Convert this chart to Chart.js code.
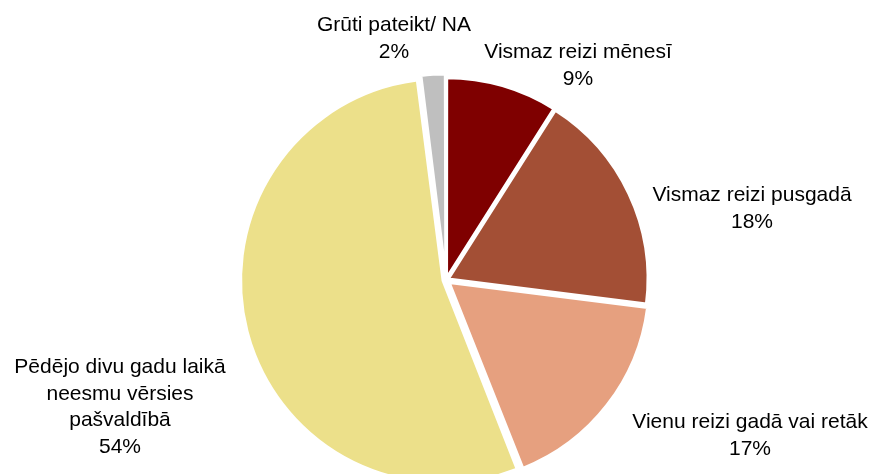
<!DOCTYPE html>
<html>
<head>
<meta charset="utf-8">
<script src="https://cdn.jsdelivr.net/npm/chart.js@4/dist/chart.umd.min.js"></script>
<style>
  html, body { margin: 0; padding: 0; background: #fff; overflow: hidden; }
  #wrap { position: absolute; left: 0; top: 0; width: 874px; height: 500px; }
</style>
</head>
<body>
<div id="wrap"><canvas id="pieChart"></canvas></div>
<script>
// categories (label lines as shown next to each slice)
var categories = [
    ['Vismaz reizi mēnesī'],
    ['Vismaz reizi pusgadā'],
    ['Vienu reizi gadā vai retāk'],
    ['Pēdējo divu gadu laikā', 'neesmu vērsies', 'pašvaldībā'],
    ['Grūti pateikt/ NA']
];
var shares = [9, 18, 17, 54, 2];
var sliceColors = ['#7f0000', '#a34f35', '#e6a07f', '#ece08a', '#bfbfbf'];

// where each label block sits, relative to the pie centre (x = text centre, y = first baseline)
var labelPlace = [
    { dx: 132, dy: -222 },
    { dx: 306, dy: -79 },
    { dx: 304, dy: 148 },
    { dx: -326, dy: 93 },
    { dx: -52, dy: -249 }
];

var pieLabels = {
    id: 'pieLabels',
    afterDatasetsDraw: function(chart) {
        var ctx = chart.ctx;
        var meta = chart.getDatasetMeta(0);
        var cx = meta.data[0].x, cy = meta.data[0].y;
        ctx.save();
        ctx.fillStyle = '#000';
        ctx.font = '21px "Liberation Sans", Arial, sans-serif';
        ctx.textAlign = 'center';
        ctx.textBaseline = 'alphabetic';
        categories.forEach(function(lines, i) {
            var all = lines.concat([shares[i] + '%']);
            all.forEach(function(t, k) {
                ctx.fillText(t, cx + labelPlace[i].dx, cy + labelPlace[i].dy + k * 26.5);
            });
        });
        ctx.restore();
    }
};

var ctx = document.getElementById('pieChart');
var myChart = new Chart(ctx, {
    type: 'pie',
    data: {
        labels: categories.map(function(c) { return c.join(' '); }),
        datasets: [{
            data: shares,
            backgroundColor: sliceColors,
            borderColor: '#fff',
            borderWidth: 3,
            offset: [8, 10, 16, 12, 14]
        }]
    },
    options: {
        responsive: true,
        maintainAspectRatio: false,
        animation: false,
        layout: { padding: { left: 18, right: 0, top: 71, bottom: 11 } },
        plugins: {
            legend: { display: false },
            tooltip: { enabled: false }
        }
    },
    plugins: [pieLabels]
});
</script>
</body>
</html>
